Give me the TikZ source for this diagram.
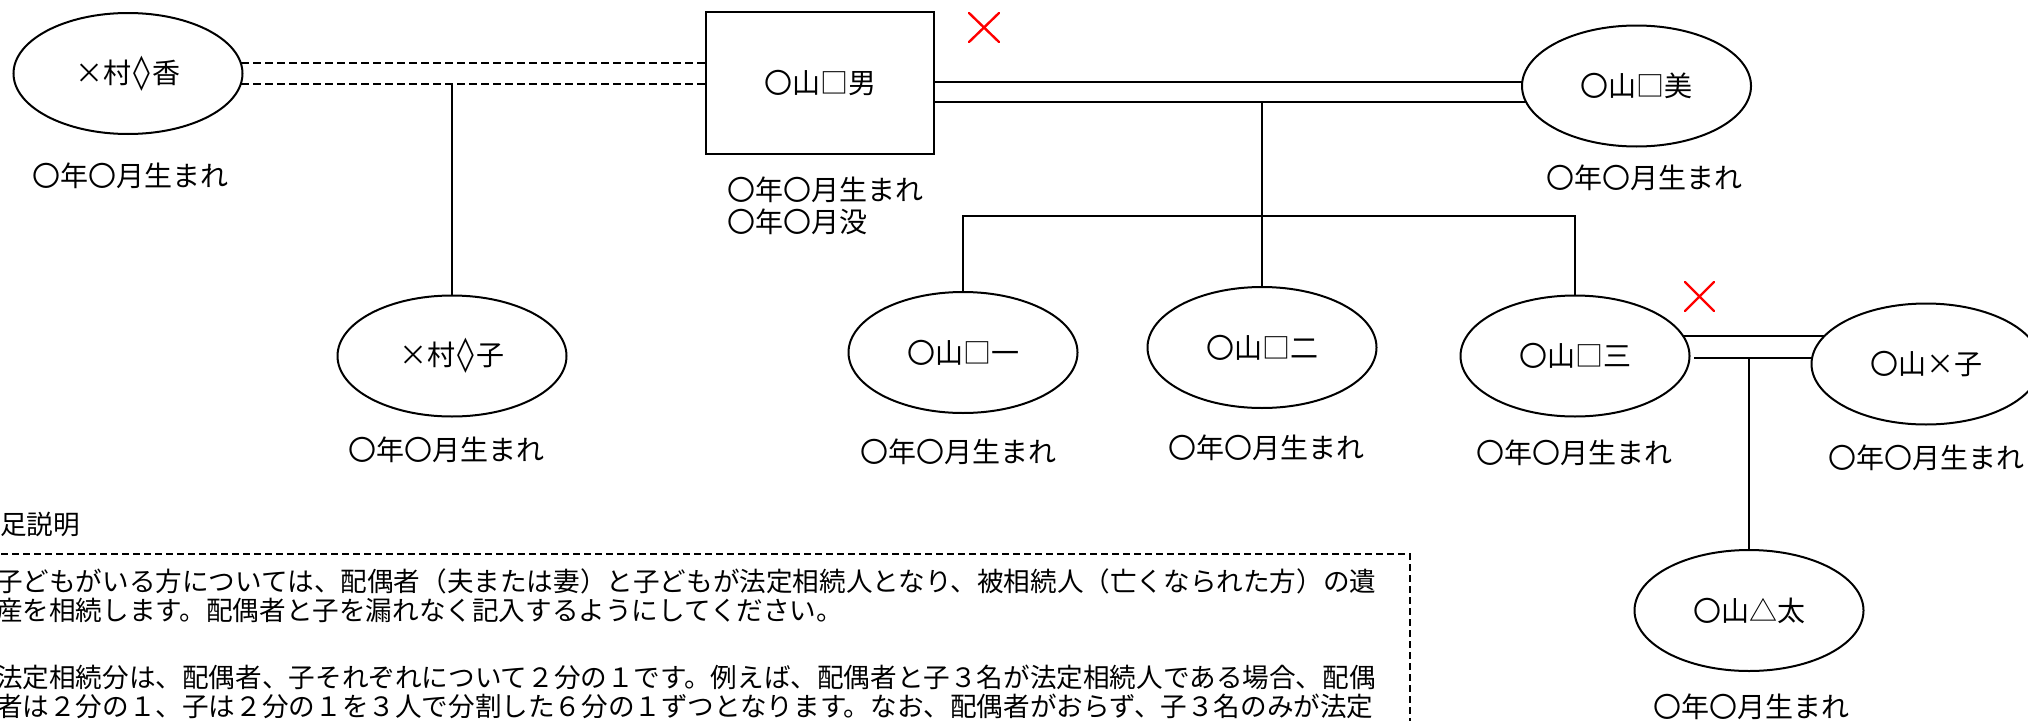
\documentclass[tikz,border=0pt]{standalone}
\usepackage{fontspec}
\setmainfont{Noto Sans CJK JP}
\newfontfamily\djv{DejaVu Sans}
\newcommand{\loz}{\hspace{2pt}{\djv\fontsize{34}{32}\selectfont ◊}\hspace{2pt}}
\usetikzlibrary{shapes.geometric,calc}
\begin{document}
\begin{tikzpicture}[x=1pt,y=-1pt,
  person/.style={ellipse,draw,line width=2pt,minimum width=229pt,minimum height=121pt,inner sep=0pt,font=\fontsize{28}{32}\selectfont},
  deceased/.style={rectangle,draw,line width=2.2pt,minimum width=228pt,minimum height=142pt,inner sep=0pt,font=\fontsize{28}{32}\selectfont},
  info/.style={inner sep=0pt,font=\fontsize{28}{32}\selectfont},
  link/.style={line width=1.4pt},
  exlink/.style={line width=1.4pt,dash pattern=on 8pt off 4pt},
  notebox/.style={line width=1.3pt,dash pattern=on 7pt off 4pt},
  note/.style={inner sep=0pt,anchor=west,font=\fontsize{26.6}{31}\selectfont},
  xline/.style={red,line width=2.4pt,line cap=round}
]
\useasboundingbox (0,0) rectangle (2028,720);
\clip (0,0) rectangle (2028,720);

% persons
\node[person] (kaori) at (128,73.5) {×村\loz 香};
\node[info] (kaoriB) at (130,176) {〇年〇月生まれ};

\node[deceased] (otoko) at (820,83) {〇山□男};
\node[info,anchor=west] (otokoB1) at (727,190) {〇年〇月生まれ};
\node[info,anchor=west] (otokoB2) at (727,222) {〇年〇月没};

\node[person] (mi) at (1636.5,86) {〇山□美};
\node[info] (miB) at (1644,178) {〇年〇月生まれ};

\node[person] (murako) at (452,356) {×村\loz 子};
\node[info] (murakoB) at (446,450) {〇年〇月生まれ};

\node[person] (ichi) at (963,352.5) {〇山□一};
\node[info] (ichiB) at (958,452) {〇年〇月生まれ};

\node[person] (niji) at (1262,347.5) {〇山□二};
\node[info] (nijiB) at (1266,448) {〇年〇月生まれ};

\node[person] (san) at (1575,356) {〇山□三};
\node[info] (sanB) at (1574,453) {〇年〇月生まれ};

\node[person] (sako) at (1926,364) {〇山×子};
\node[info] (sakoB) at (1926,458) {〇年〇月生まれ};

\node[person] (taro) at (1749,610.5) {〇山△太};
\node[info] (taroB) at (1751,707) {〇年〇月生まれ};

% red crosses
\draw[xline] (969,13) -- (999,42) (999,13) -- (969,42);
\draw[xline] (1685,282) -- (1714,311) (1714,282) -- (1685,311);

% border points (relative to the nodes)
\coordinate (kU) at ($(kaori.center)+(113,-10.5)$);
\coordinate (kL) at ($(kaori.center)+(113,10.5)$);
\coordinate (mU) at ($(mi.center)+(-114.3,-4)$);
\coordinate (mL) at ($(mi.center)+(-110.5,16)$);
\coordinate (sU) at ($(san.center)+(108,-20)$);
\coordinate (sL) at ($(san.center)+(119,2)$);
\coordinate (zU) at ($(sako.center)+(-102,-28)$);
\coordinate (zL) at ($(sako.center)+(-114,-6)$);
\coordinate (bar) at (0,216);

% connectors
\draw[exlink] (kU) -- (kU -| otoko.west);
\draw[exlink] (kL) -- (kL -| otoko.west);
\draw[link] (murako.north) -- (murako.north |- kL);

\draw[link] (otoko.east |- mU) -- (mU);
\draw[link] (otoko.east |- mL) -- (mL);
\draw[link] (niji.north) -- (niji.north |- mL);
\draw[link] (ichi.north) -- (ichi.north |- bar) -- (san.north |- bar) -- (san.north);

\draw[link] (sU) -- (zU |- sU);
\draw[link] (zL) -- (sL |- zL);
\draw[link] (taro.north) -- (taro.north |- zL);

% notes
\node[note] (noteT) at (0,524) {足説明};
\draw[notebox] (-10,554) -- (1410,554) -- (1410,740);
\node[note] (n1) at (-4,581) {子どもがいる方については、配偶者（夫または妻）と子どもが法定相続人となり、被相続人（亡くなられた方）の遺};
\node[note] (n2) at (-4,610) {産を相続します。配偶者と子を漏れなく記入するようにしてください。};
\node[note] (n3) at (-4,677) {法定相続分は、配偶者、子それぞれについて２分の１です。例えば、配偶者と子３名が法定相続人である場合、配偶};
\node[note] (n4) at (-4,706) {者は２分の１、子は２分の１を３人で分割した６分の１ずつとなります。なお、配偶者がおらず、子３名のみが法定};
\end{tikzpicture}
\end{document}
